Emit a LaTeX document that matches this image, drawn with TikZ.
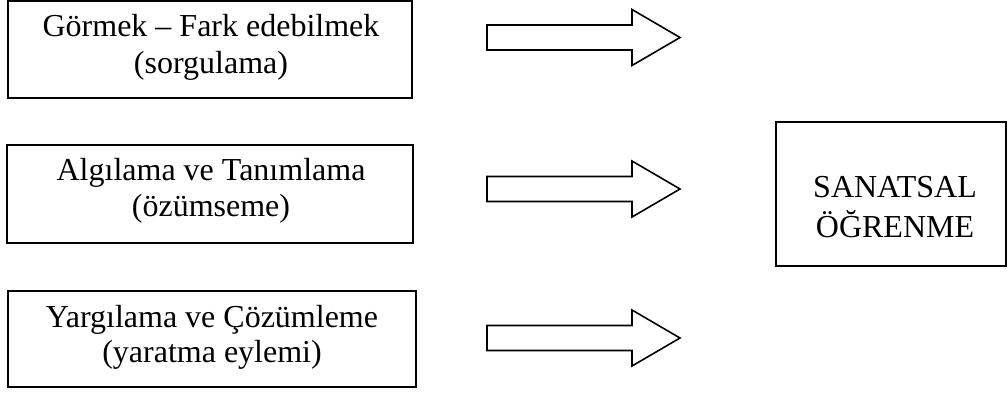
\documentclass[tikz,border=0pt]{standalone}
\usepackage{fontspec}
\setmainfont{Liberation Serif}
\begin{document}
\begin{tikzpicture}[x=1pt,y=-1pt,
  box/.style={draw=black,line width=2.2pt,inner sep=0pt},
  txt/.style={anchor=base,inner sep=0pt,font=\fontsize{32}{38}\selectfont},
  arrowshape/.style={draw=black,line width=1.6pt,line join=miter,fill=white}]
\useasboundingbox (0,0) rectangle (1008,392);
% left boxes
\node[box,minimum width=404pt,minimum height=97pt] (b1) at (210,49.5) {};
\node[box,minimum width=406pt,minimum height=98pt] (b2) at (210,194) {};
\node[box,minimum width=408pt,minimum height=96pt] (b3) at (212,339) {};
\node[txt] (t1a) at (211,36) {Görmek – Fark edebilmek};
\node[txt] (t1b) at (211,73) {(sorgulama)};
\node[txt] (t2a) at (211,180) {Algılama ve Tanımlama};
\node[txt] (t2b) at (211,216) {(özümseme)};
\node[txt] (t3a) at (212,327) {Yargılama ve Çözümleme};
\node[txt] (t3b) at (212,362) {(yaratma eylemi)};
% right box
\node[box,minimum width=230pt,minimum height=144pt] (r) at (891,194) {};
\node[txt] (ra) at (895,197) {SANATSAL};
\node[txt] (rb) at (895,237) {ÖĞRENME};
% block arrows
\foreach \yc in {37.5,189,338}{
  \draw[arrowshape] (487,\yc-12.5) -- (632,\yc-12.5) -- (632,\yc-28) -- (680,\yc)
    -- (632,\yc+28) -- (632,\yc+12.5) -- (487,\yc+12.5) -- cycle;
}
\end{tikzpicture}
\end{document}
